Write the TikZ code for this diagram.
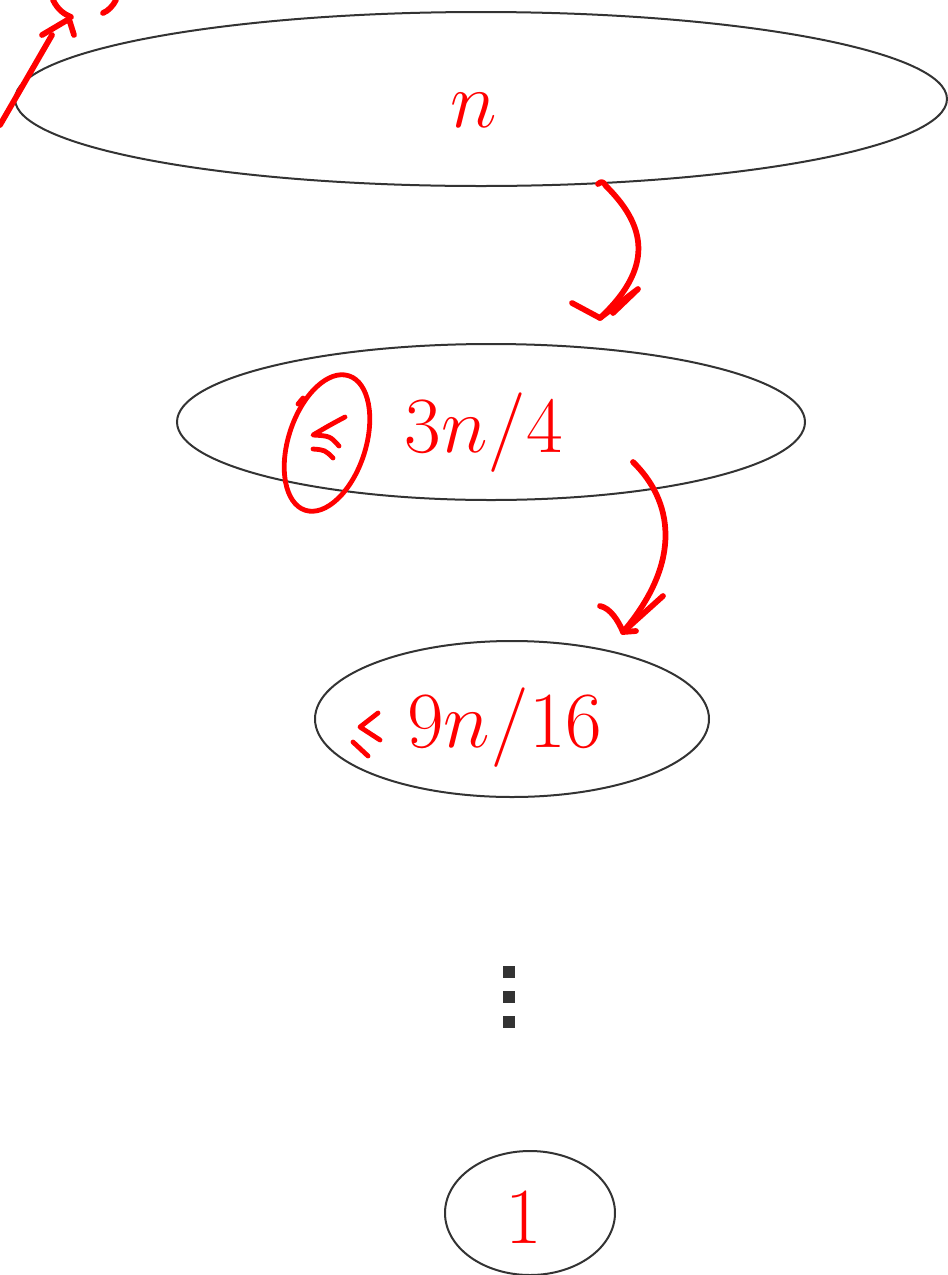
\documentclass[tikz,border=0pt]{standalone}
\usepackage{amsmath}
\begin{document}
\begin{tikzpicture}[x=0.75pt,y=-0.75pt,
  oval/.style={draw=black!80, line width=1.5pt},
  lbl/.style={text=red, font=\Huge, anchor=base, inner sep=0pt, scale=2.4, transform shape},
  ink/.style={draw=red, line width=4.3pt, line cap=round, line join=round},
  thinink/.style={ink, line width=3.6pt},
  dotsq/.style={fill=black!80, draw=none}]
\useasboundingbox (0,0) rectangle (948,1275);
% ellipses
\draw[oval] (481,99) ellipse [x radius=349.5pt, y radius=65.25pt];
\draw[oval] (491,422) ellipse [x radius=235.5pt, y radius=58.5pt];
\draw[oval] (512,719) ellipse [x radius=147.75pt, y radius=58.5pt];
\draw[oval] (530,1213) ellipse [x radius=63.75pt, y radius=46.5pt];
% labels
\node[lbl] (t1) at (474,127) {$n$};
\node[lbl] (t2) at (484,452) {$3n/4$};
\node[lbl] (t3) at (505,747) {$9n/16$};
\node[lbl] (t4) at (524,1243) {$1$};
% vertical dots
\fill[dotsq] (503,966) rectangle (515,978);
\fill[dotsq] (503,991) rectangle (515,1003);
\fill[dotsq] (503,1016) rectangle (515,1028);
% red annotations: top-left arrow
\draw[ink] (0,125) -- (52,35);
\draw[ink] (42,35) -- (69,19) -- (74,35);
\draw[ink] (53,0) .. controls (58,10) and (64,14) .. (71,17);
\draw[ink] (116,0) .. controls (113,6) and (108,11) .. (103,13);
% arrow 1
\draw[ink] (598,184) .. controls (602,180) and (604,183) .. (606,186)
  .. controls (640,220) and (660,262) .. (600,318);
\draw[ink] (572,303) -- (600,318) -- (638,289) -- (613,313);
% arrow 2
\draw[ink] (633,462) .. controls (672,500) and (684,560) .. (623,632);
\draw[ink] (600,606) .. controls (610,608) and (618,620) .. (623,632) -- (663,596);
\draw[ink] (623,632) -- (636,631);
% circled le
\draw[thinink, rotate around={72:(327,443)}] (327,443) ellipse [x radius=53pt, y radius=29pt];
\draw[thinink] (298,404) -- (303,398);
\draw[thinink] (345,417) .. controls (330,425) .. (313,435) .. controls (330,436) .. (339,446);
\draw[thinink] (313,449) .. controls (325,450) .. (333,458);
% second le
\draw[thinink] (378,713) -- (360,727) -- (380,740);
\draw[thinink] (353,742) -- (368,756);
\end{tikzpicture}
\end{document}
